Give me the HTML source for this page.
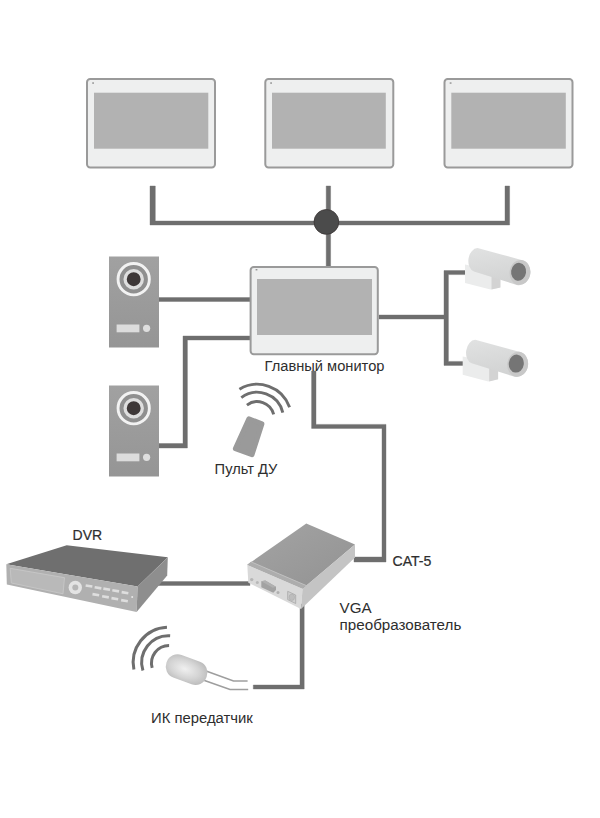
<!DOCTYPE html>
<html><head><meta charset="utf-8"><title>Diagram</title>
<style>html,body{margin:0;padding:0;background:#fff;}body{width:600px;height:818px;overflow:hidden;font-family:"Liberation Sans",sans-serif;}svg{display:block}</style>
</head><body>
<svg width="600" height="818" viewBox="0 0 600 818">
<rect width="600" height="818" fill="#ffffff"/>
<defs>
<linearGradient id="gDoor" x1="0" y1="0" x2="0" y2="1"><stop offset="0" stop-color="#a1a1a1"/><stop offset="1" stop-color="#959595"/></linearGradient>
<linearGradient id="gCam" x1="0" y1="0" x2="0.25" y2="1"><stop offset="0" stop-color="#e1e2e2"/><stop offset="1" stop-color="#d2d3d3"/></linearGradient>
<radialGradient id="gBulb" cx="0.45" cy="0.5" r="0.6"><stop offset="0" stop-color="#f0f0f0"/><stop offset="0.6" stop-color="#d4d4d4"/><stop offset="1" stop-color="#bcbcbc"/></radialGradient>
<linearGradient id="gTop" x1="0" y1="0" x2="1" y2="1"><stop offset="0" stop-color="#a4a4a4"/><stop offset="1" stop-color="#929292"/></linearGradient>
</defs>
<path d="M150 186H155.3V221H326.2V186H330.6V221H505V186H509.6V225H330.6V266H326.2V225H150Z M159 297.6H250V301.5H159Z M159 443.5H183V336H250V340H187.4V448H159Z M379 315H444V270.6H466V274.6H448.4V361.4H464V365.4H444V319H379Z M311.6 371H316V424.4H386V562H354V557H382V428.4H311.6Z M150 581.6H250V585.5H150Z M300 604H304.2V689H253.3V685H300Z" fill="#6e6e6e" stroke="#6e6e6e" stroke-width="0.4"/>
<circle cx="326.4" cy="221.9" r="12.4" fill="#4b4b4b" stroke="#3b3636" stroke-width="0.8"/>
<rect x="87" y="79" width="128" height="88.5" rx="3.2" ry="3.2" fill="#eeefef" stroke="#9a9a9a" stroke-width="2"/>
<rect x="94" y="92.7" width="114.30000000000001" height="55.999999999999986" fill="#b2b2b2"/>
<rect x="92.2" y="82.4" width="1.8" height="1.3" fill="#8a8a8a"/>
<rect x="265.3" y="79" width="128" height="88.5" rx="3.2" ry="3.2" fill="#eeefef" stroke="#9a9a9a" stroke-width="2"/>
<rect x="272" y="92.7" width="113.80000000000001" height="55.999999999999986" fill="#b2b2b2"/>
<rect x="270.2" y="82.4" width="1.8" height="1.3" fill="#8a8a8a"/>
<rect x="444.5" y="79" width="128" height="88.5" rx="3.2" ry="3.2" fill="#eeefef" stroke="#9a9a9a" stroke-width="2"/>
<rect x="451.3" y="92.7" width="114.49999999999994" height="55.999999999999986" fill="#b2b2b2"/>
<rect x="449.7" y="82.4" width="1.8" height="1.3" fill="#8a8a8a"/>
<rect x="250.6" y="267" width="127.19999999999999" height="87.2" rx="3.2" ry="3.2" fill="#eeefef" stroke="#9a9a9a" stroke-width="2"/>
<rect x="257" y="279" width="115" height="56" fill="#b2b2b2"/>
<rect x="255.59999999999997" y="269.09999999999997" width="1.8" height="1.3" fill="#8a8a8a"/>
<rect x="109" y="256.5" width="50" height="91" fill="url(#gDoor)"/>
<circle cx="133.7" cy="279.2" r="15.65" fill="#8f8f8f" stroke="#f2f2f2" stroke-width="2.9"/>
<circle cx="133.7" cy="279.2" r="8.6" fill="#3e3838" stroke="#dedede" stroke-width="3.3"/>
<rect x="116.6" y="324.5" width="22.8" height="7.8" fill="#dcdcdc"/>
<circle cx="146.6" cy="328.3" r="3.6" fill="#dedede"/>
<rect x="109" y="385.5" width="50" height="91" fill="url(#gDoor)"/>
<circle cx="133.7" cy="408.2" r="15.65" fill="#8f8f8f" stroke="#f2f2f2" stroke-width="2.9"/>
<circle cx="133.7" cy="408.2" r="8.6" fill="#3e3838" stroke="#dedede" stroke-width="3.3"/>
<rect x="116.6" y="453.5" width="22.8" height="7.8" fill="#dcdcdc"/>
<circle cx="146.6" cy="457.3" r="3.6" fill="#dedede"/>
<g transform="translate(0 0)">
<polygon points="465,264.6 492,270 500.4,278 500.4,287.4 490.5,289.6 465,283" fill="#ebecec"/>
<polygon points="491.5,276 500.4,278 500.4,287.4 491.5,289.6" fill="#d3d3d3"/>
<path d="M477.5 248 L521.5 260 A11 12.6 8 0 1 517 285 L474 271.5 A8.5 12 8 0 1 477.5 248Z" fill="url(#gCam)"/>
<ellipse cx="520" cy="272.4" rx="10.4" ry="12.5" transform="rotate(8 520 272.4)" fill="#c8c8c8"/>
<ellipse cx="518.6" cy="271.8" rx="7.5" ry="9" transform="rotate(8 518.6 271.8)" fill="#757575"/>
</g>
<g transform="translate(-2.3 91.8)">
<polygon points="465,264.6 492,270 500.4,278 500.4,287.4 490.5,289.6 465,283" fill="#ebecec"/>
<polygon points="491.5,276 500.4,278 500.4,287.4 491.5,289.6" fill="#d3d3d3"/>
<path d="M477.5 248 L521.5 260 A11 12.6 8 0 1 517 285 L474 271.5 A8.5 12 8 0 1 477.5 248Z" fill="url(#gCam)"/>
<ellipse cx="520" cy="272.4" rx="10.4" ry="12.5" transform="rotate(8 520 272.4)" fill="#c8c8c8"/>
<ellipse cx="518.6" cy="271.8" rx="7.5" ry="9" transform="rotate(8 518.6 271.8)" fill="#757575"/>
</g>
<polygon points="248.9,418.8 261.9,423.9 252.0,454.7 235.4,448.6" fill="#9a9a9a" stroke="#9a9a9a" stroke-width="5" stroke-linejoin="round"/>
<path d="M239.43 389.26A34.3 34.3 0 0 1 289.59 407.32 M241.30 397.65A26.3 26.3 0 0 1 282.81 412.59 M246.92 405.06A17 17 0 0 1 273.68 414.43" fill="none" stroke="#6e6e6e" stroke-width="2.9"/>
<path d="M133.91 669.54A35.3 35.3 0 0 1 166.96 627.23 M142.94 670.56A26.8 26.8 0 0 1 170.14 635.75 M152.18 667.95A17.6 17.6 0 0 1 169.10 645.50" fill="none" stroke="#6e6e6e" stroke-width="3"/>
<path d="M204 670.3L233.5 681H247.6M201 679.2L230 689.5H248.2" fill="none" stroke="#9e9e9e" stroke-width="1.6"/>
<rect x="-21.3" y="-12" width="42.6" height="24" rx="11.5" fill="url(#gBulb)" transform="translate(186.6 669.6) rotate(20.5)"/>
<polygon points="66.7,545.2 167.8,557.3 137.6,586.6 6.3,564.2" fill="#6f6f6f"/>
<polygon points="6.3,564.2 137.6,586.6 136.6,612 6.8,584.5" fill="#b0b0b0"/>
<polygon points="137.6,586.6 167.8,557.3 167.2,575.5 136.6,612" fill="#8e8e8e"/>
<polygon points="10.2,568.3 64.5,577.7 63,593.8 11.3,583" fill="#b9b9b9" stroke="#c9c9c9" stroke-width="0.8"/>
<circle cx="75.3" cy="587.5" r="6.7" fill="#e3e3e3"/><circle cx="75.3" cy="587.5" r="3" fill="#b6b6b6"/>
<rect x="-3.4" y="-1.3" width="6.8" height="2.6" fill="#dedede" transform="translate(89 586) rotate(10)"/>
<rect x="-3.4" y="-1.3" width="6.8" height="2.6" fill="#dedede" transform="translate(98 587.8) rotate(10)"/>
<rect x="-3.4" y="-1.3" width="6.8" height="2.6" fill="#dedede" transform="translate(106.7 589.2) rotate(10)"/>
<rect x="-3.4" y="-1.3" width="6.8" height="2.6" fill="#dedede" transform="translate(115.7 590.8) rotate(10)"/>
<rect x="-3.4" y="-1.3" width="6.8" height="2.6" fill="#dedede" transform="translate(125 592.7) rotate(10)"/>
<rect x="-3.4" y="-1.3" width="6.8" height="2.6" fill="#dedede" transform="translate(95.8 594.7) rotate(10)"/>
<rect x="-3.4" y="-1.3" width="6.8" height="2.6" fill="#dedede" transform="translate(105.5 596.8) rotate(10)"/>
<rect x="-3.4" y="-1.3" width="6.8" height="2.6" fill="#dedede" transform="translate(114.8 598.7) rotate(10)"/>
<rect x="-3.4" y="-1.3" width="6.8" height="2.6" fill="#dedede" transform="translate(124.5 600.7) rotate(10)"/>
<circle cx="132.2" cy="597" r="1" fill="#e8e8e8"/>
<polygon points="306.3,523.6 355,544.6 303,588.5 247.3,564.7" fill="url(#gTop)"/>
<polygon points="247.3,564.7 302.5,588.8 301,608.9 248.3,582.7" fill="#d9d9d9"/>
<polygon points="302.5,588.8 355,544.6 355,557.5 301,608.9" fill="#c4c4c4"/>
<polygon points="247.3,564.7 251,561.8 306.4,585.6 302.5,588.8" fill="#adadad"/>
<path d="M251 561.8L306.4 585.6" stroke="#c6c6c6" stroke-width="0.8" fill="none"/>
<circle cx="251.7" cy="579.6" r="1.7" fill="#b5b5b5"/><circle cx="257.3" cy="582.4" r="1.5" fill="#b8b8b8"/>
<polygon points="261.3,581.3 265.3,580.4 276,586.7 276,590 273.3,592.7 261.3,587.3" fill="#a2a2a2"/>
<polygon points="261.3,581.3 265.3,580.4 276,586.7 272.8,587.8" fill="#b0b0b0"/>
<circle cx="278" cy="592.4" r="1.5" fill="#b0b0b0"/>
<polygon points="287.7,591.3 295.7,595 295.7,603.5 287.7,599.6" fill="#cfcfcf" stroke="#a2a2a2" stroke-width="0.7"/>
<ellipse cx="291.8" cy="597.3" rx="2.8" ry="3.2" fill="#bdbdbd" stroke="#a8a8a8" stroke-width="0.5"/>
<g font-family="'Liberation Sans', sans-serif" fill="#2e2e2e">
<text x="264.6" y="371.2" font-size="14.67">Главный монитор</text>
<text x="214.6" y="474" font-size="14.67">Пульт ДУ</text>
<text x="72.6" y="539.9" font-size="14" stroke="#2e2e2e" stroke-width="0.2">DVR</text>
<text x="392.5" y="566" font-size="14.1" stroke="#2e2e2e" stroke-width="0.22">CAT-5</text>
<text x="339.6" y="612.6" font-size="15.2">VGA</text>
<text x="339.6" y="629.8" font-size="15.2">преобразователь</text>
<text x="151" y="722.9" font-size="14.85">ИК передатчик</text>
</g>
</svg>
</body></html>
